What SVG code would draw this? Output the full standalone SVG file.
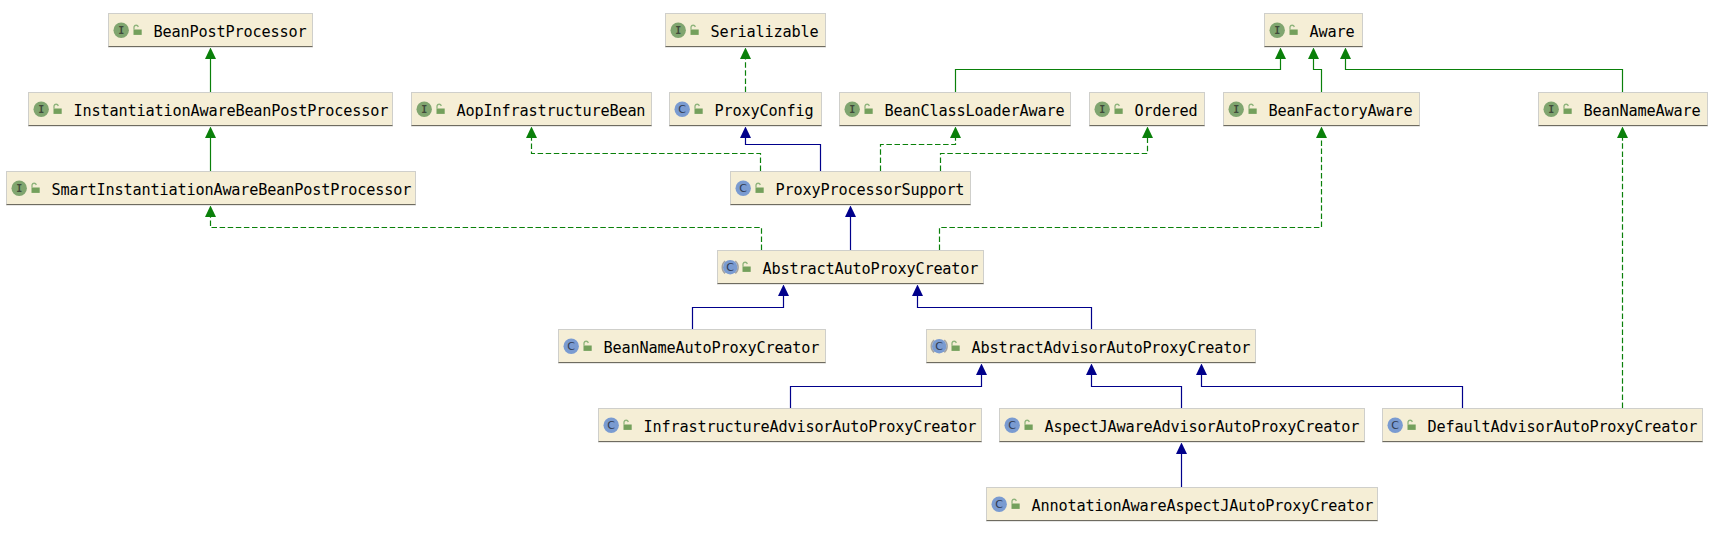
<svg xmlns="http://www.w3.org/2000/svg" xmlns:xlink="http://www.w3.org/1999/xlink" width="1714" height="542" viewBox="0 0 1714 542">
<style>
.box{fill:#f5eed6;stroke:#cfcfcb;stroke-width:1}
.base{stroke:#6e6b60;stroke-width:1;fill:none}
.name{font-family:"DejaVu Sans Mono","Liberation Mono",monospace;font-size:15.2px;letter-spacing:-0.15px;fill:#000}
.ci{fill:#80a56f}
.cc{fill:#7a9bd1}
.gl{font-family:"DejaVu Sans Mono","Liberation Mono",monospace;font-weight:bold;font-size:10px;text-anchor:middle}
.gi{fill:#3f4a3a}
.gc{fill:#2f3a50;font-family:"DejaVu Sans","Liberation Sans",sans-serif;font-weight:normal;font-size:11px}
.l{fill:none;stroke-width:1.2}
.g{stroke:#0a800a}
.b{stroke:#00008b}
.d{stroke-dasharray:5.5 2.6}
.ug{marker-end:url(#ag)}
.ub{marker-end:url(#ab)}
.ring{fill:none;stroke:#a3a3a3;stroke-width:1.5}
</style>
<defs>
<marker id="ag" markerUnits="userSpaceOnUse" markerWidth="13" markerHeight="13" refX="5.5" refY="11" orient="0"><path d="M0,11.5 L5.5,0 L11,11.5 Z" fill="#0a800a"/></marker>
<marker id="ab" markerUnits="userSpaceOnUse" markerWidth="13" markerHeight="13" refX="5.5" refY="11" orient="0"><path d="M0,11.5 L5.5,0 L11,11.5 Z" fill="#00008b"/></marker>
<g id="lock"><path d="M25.5,16 V13.5 A2.2,2.2 0 0 1 29.8,13.5" fill="none" stroke="#8fb47c" stroke-width="1.3"/><rect x="25" y="16" width="8.2" height="5.4" fill="#74a05c"/></g>
<g id="iface"><circle cx="12.7" cy="16.7" r="7.7" class="ci"/></g>
<g id="cls"><circle cx="12.7" cy="16.7" r="7.7" class="cc"/></g>
<g id="abs"><path d="M7.6,10.5 A8.2,8.2 0 0 0 7.6,22.9 M17.8,10.5 A8.2,8.2 0 0 1 17.8,22.9" class="ring"/><circle cx="12.7" cy="16.7" r="7.2" class="cc"/></g>
</defs>
<rect width="1714" height="542" fill="#fff"/>
<g id="connectors">
<path class="l g ug" d="M210.5,92V58.5"/>
<path class="l g ug" d="M210.5,171V137.5"/>
<path class="l g d ug" d="M761.5,250V227.5H210.5V216.5"/>
<path class="l g d ug" d="M760.5,171V153.5H531.5V137.5"/>
<path class="l b ub" d="M820.5,171V144.5H745.5V137.5"/>
<path class="l g d ug" d="M745.5,92V58.5"/>
<path class="l g d ug" d="M880.5,171V144.5H955.5V137.5"/>
<path class="l g d ug" d="M940.5,171V153.5H1147.5V137.5"/>
<path class="l b ub" d="M850.5,250V216.5"/>
<path class="l g d ug" d="M939.5,250V227.5H1321.5V137.5"/>
<path class="l g ug" d="M955.5,92V69.5H1280.5V58.5"/>
<path class="l g ug" d="M1321.5,92V69.5H1313.5V58.5"/>
<path class="l g ug" d="M1622.5,92V69.5H1345.5V58.5"/>
<path class="l g d ug" d="M1622.5,408V137.5"/>
<path class="l b ub" d="M692.5,329V307.5H783.5V295.5"/>
<path class="l b ub" d="M1091.5,329V307.5H917.5V295.5"/>
<path class="l b ub" d="M790.5,408V386.5H981.5V374.5"/>
<path class="l b ub" d="M1181.5,408V386.5H1091.5V374.5"/>
<path class="l b ub" d="M1462.5,408V386.5H1201.5V374.5"/>
<path class="l b ub" d="M1181.5,487V453.5"/>
</g>
<g id="BeanPostProcessor" transform="translate(108.5,13.5)"><rect class="box" width="204" height="33.5"/><path class="base" d="M0,33H204"/><use xlink:href="#iface" href="#iface"/><text class="gl gi" x="12.7" y="20.2">I</text><use xlink:href="#lock" href="#lock"/><text class="name" x="45" y="23.4">BeanPostProcessor</text></g>
<g id="InstantiationAwareBeanPostProcessor" transform="translate(28.5,92.5)"><rect class="box" width="364" height="33.5"/><path class="base" d="M0,33H364"/><use xlink:href="#iface" href="#iface"/><text class="gl gi" x="12.7" y="20.2">I</text><use xlink:href="#lock" href="#lock"/><text class="name" x="45" y="23.4">InstantiationAwareBeanPostProcessor</text></g>
<g id="SmartInstantiationAwareBeanPostProcessor" transform="translate(6.5,171.5)"><rect class="box" width="409" height="33.5"/><path class="base" d="M0,33H409"/><use xlink:href="#iface" href="#iface"/><text class="gl gi" x="12.7" y="20.2">I</text><use xlink:href="#lock" href="#lock"/><text class="name" x="45" y="23.4">SmartInstantiationAwareBeanPostProcessor</text></g>
<g id="AopInfrastructureBean" transform="translate(411.5,92.5)"><rect class="box" width="240" height="33.5"/><path class="base" d="M0,33H240"/><use xlink:href="#iface" href="#iface"/><text class="gl gi" x="12.7" y="20.2">I</text><use xlink:href="#lock" href="#lock"/><text class="name" x="45" y="23.4">AopInfrastructureBean</text></g>
<g id="Serializable" transform="translate(665.5,13.5)"><rect class="box" width="160" height="33.5"/><path class="base" d="M0,33H160"/><use xlink:href="#iface" href="#iface"/><text class="gl gi" x="12.7" y="20.2">I</text><use xlink:href="#lock" href="#lock"/><text class="name" x="45" y="23.4">Serializable</text></g>
<g id="ProxyConfig" transform="translate(669.5,92.5)"><rect class="box" width="152" height="33.5"/><path class="base" d="M0,33H152"/><use xlink:href="#cls" href="#cls"/><text class="gl gc" x="12.7" y="20.6">C</text><use xlink:href="#lock" href="#lock"/><text class="name" x="45" y="23.4">ProxyConfig</text></g>
<g id="ProxyProcessorSupport" transform="translate(730.5,171.5)"><rect class="box" width="240" height="33.5"/><path class="base" d="M0,33H240"/><use xlink:href="#cls" href="#cls"/><text class="gl gc" x="12.7" y="20.6">C</text><use xlink:href="#lock" href="#lock"/><text class="name" x="45" y="23.4">ProxyProcessorSupport</text></g>
<g id="BeanClassLoaderAware" transform="translate(839.5,92.5)"><rect class="box" width="231" height="33.5"/><path class="base" d="M0,33H231"/><use xlink:href="#iface" href="#iface"/><text class="gl gi" x="12.7" y="20.2">I</text><use xlink:href="#lock" href="#lock"/><text class="name" x="45" y="23.4">BeanClassLoaderAware</text></g>
<g id="Ordered" transform="translate(1089.5,92.5)"><rect class="box" width="115" height="33.5"/><path class="base" d="M0,33H115"/><use xlink:href="#iface" href="#iface"/><text class="gl gi" x="12.7" y="20.2">I</text><use xlink:href="#lock" href="#lock"/><text class="name" x="45" y="23.4">Ordered</text></g>
<g id="BeanFactoryAware" transform="translate(1223.5,92.5)"><rect class="box" width="196" height="33.5"/><path class="base" d="M0,33H196"/><use xlink:href="#iface" href="#iface"/><text class="gl gi" x="12.7" y="20.2">I</text><use xlink:href="#lock" href="#lock"/><text class="name" x="45" y="23.4">BeanFactoryAware</text></g>
<g id="Aware" transform="translate(1264.5,13.5)"><rect class="box" width="98" height="33.5"/><path class="base" d="M0,33H98"/><use xlink:href="#iface" href="#iface"/><text class="gl gi" x="12.7" y="20.2">I</text><use xlink:href="#lock" href="#lock"/><text class="name" x="45" y="23.4">Aware</text></g>
<g id="BeanNameAware" transform="translate(1538.5,92.5)"><rect class="box" width="169" height="33.5"/><path class="base" d="M0,33H169"/><use xlink:href="#iface" href="#iface"/><text class="gl gi" x="12.7" y="20.2">I</text><use xlink:href="#lock" href="#lock"/><text class="name" x="45" y="23.4">BeanNameAware</text></g>
<g id="AbstractAutoProxyCreator" transform="translate(717.5,250.5)"><rect class="box" width="266" height="33.5"/><path class="base" d="M0,33H266"/><use xlink:href="#abs" href="#abs"/><text class="gl gc" x="12.7" y="20.6">C</text><use xlink:href="#lock" href="#lock"/><text class="name" x="45" y="23.4">AbstractAutoProxyCreator</text></g>
<g id="BeanNameAutoProxyCreator" transform="translate(558.5,329.5)"><rect class="box" width="267" height="33.5"/><path class="base" d="M0,33H267"/><use xlink:href="#cls" href="#cls"/><text class="gl gc" x="12.7" y="20.6">C</text><use xlink:href="#lock" href="#lock"/><text class="name" x="45" y="23.4">BeanNameAutoProxyCreator</text></g>
<g id="AbstractAdvisorAutoProxyCreator" transform="translate(926.5,329.5)"><rect class="box" width="329" height="33.5"/><path class="base" d="M0,33H329"/><use xlink:href="#abs" href="#abs"/><text class="gl gc" x="12.7" y="20.6">C</text><use xlink:href="#lock" href="#lock"/><text class="name" x="45" y="23.4">AbstractAdvisorAutoProxyCreator</text></g>
<g id="InfrastructureAdvisorAutoProxyCreator" transform="translate(598.5,408.5)"><rect class="box" width="383" height="33.5"/><path class="base" d="M0,33H383"/><use xlink:href="#cls" href="#cls"/><text class="gl gc" x="12.7" y="20.6">C</text><use xlink:href="#lock" href="#lock"/><text class="name" x="45" y="23.4">InfrastructureAdvisorAutoProxyCreator</text></g>
<g id="AspectJAwareAdvisorAutoProxyCreator" transform="translate(999.5,408.5)"><rect class="box" width="365" height="33.5"/><path class="base" d="M0,33H365"/><use xlink:href="#cls" href="#cls"/><text class="gl gc" x="12.7" y="20.6">C</text><use xlink:href="#lock" href="#lock"/><text class="name" x="45" y="23.4">AspectJAwareAdvisorAutoProxyCreator</text></g>
<g id="DefaultAdvisorAutoProxyCreator" transform="translate(1382.5,408.5)"><rect class="box" width="320" height="33.5"/><path class="base" d="M0,33H320"/><use xlink:href="#cls" href="#cls"/><text class="gl gc" x="12.7" y="20.6">C</text><use xlink:href="#lock" href="#lock"/><text class="name" x="45" y="23.4">DefaultAdvisorAutoProxyCreator</text></g>
<g id="AnnotationAwareAspectJAutoProxyCreator" transform="translate(986.5,487.5)"><rect class="box" width="391" height="33.5"/><path class="base" d="M0,33H391"/><use xlink:href="#cls" href="#cls"/><text class="gl gc" x="12.7" y="20.6">C</text><use xlink:href="#lock" href="#lock"/><text class="name" x="45" y="23.4">AnnotationAwareAspectJAutoProxyCreator</text></g>
</svg>
